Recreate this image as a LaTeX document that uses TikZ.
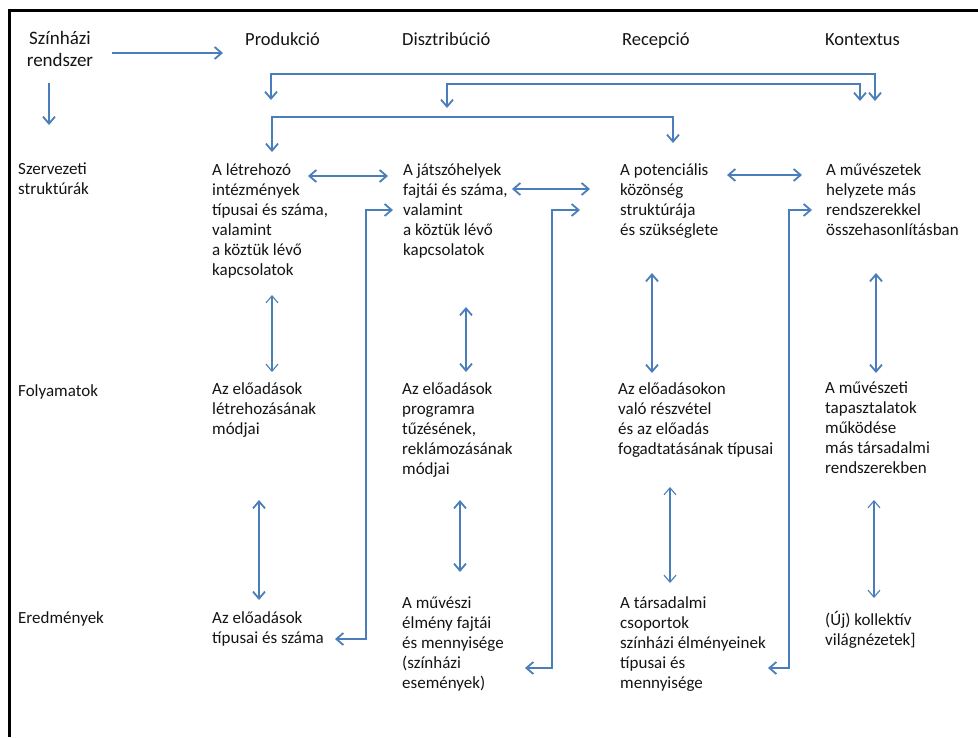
\documentclass[tikz,border=0pt]{standalone}
\usepackage{fontspec}
\setmainfont{Carlito}
\usetikzlibrary{arrows.meta}
\definecolor{linkblue}{RGB}{74,126,187}
\definecolor{inkgray}{RGB}{20,20,20}
\tikzset{
  >={Straight Barb[length=7pt,width=12pt]},
  cell/.style={anchor=north west, inner sep=0pt, align=left, text=inkgray,
    font=\fontsize{17}{20}\selectfont, execute at begin node=\strut},
  head/.style={anchor=base west, inner sep=0pt, text=inkgray,
    font=\fontsize{18.5}{22}\selectfont},
  link/.style={draw=linkblue, line width=1.8pt},
  thinlink/.style={draw=linkblue, line width=1.1pt}
}

\begin{document}
\begin{tikzpicture}[x=1pt, y=-1pt]
   \useasboundingbox (0,0) rectangle (978,737);
   \draw[line width=3pt] (978,10) -- (9,10) -- (9,737);

   \node[anchor=north, inner sep=0pt, align=center, text=inkgray,
     font=\fontsize{19}{21.5}\selectfont, execute at begin node=\strut]
     (rsz) at (60,31.5) {Színházi\\rendszer};
   \node[head] (prod) at (245,45) {Produkció};
   \node[head] (dist) at (402,45) {Disztribúció};
   \node[head] (rec)  at (622,45) {Recepció};
   \node[head] (kont) at (825,45) {Kontextus};

   \node[cell] (sz) at (18,163) {Szervezeti\\struktúrák};
   \node[cell] (fo) at (18,382.5) {Folyamatok};
   \node[cell] (er) at (18,609.5) {Eredmények};

   \node[cell] (p1) at (212,163) {A létrehozó\\intézmények\\típusai és száma,\\valamint\\a köztük lévő\\kapcsolatok};
   \node[cell] (d1) at (403,163) {A játszóhelyek\\fajtái és száma,\\valamint\\a köztük lévő\\kapcsolatok};
   \node[cell] (r1) at (620,163) {A potenciális\\közönség\\struktúrája\\és szükséglete};
   \node[cell] (k1) at (826,163) {A művészetek\\helyzete más\\rendszerekkel\\összehasonlításban};

   \node[cell] (p2) at (212,382) {Az előadások\\létrehozásának\\módjai};
   \node[cell] (d2) at (402,382) {Az előadások\\programra\\tűzésének,\\reklámozásának\\módjai};
   \node[cell] (r2) at (618,382) {Az előadásokon\\való részvétel\\és az előadás\\fogadtatásának típusai};
   \node[cell] (k2) at (825,382) {A művészeti\\tapasztalatok\\működése\\más társadalmi\\rendszerekben};

   \node[cell] (p3) at (212,611.5) {Az előadások\\típusai és száma};
   \node[cell] (d3) at (402,597) {A művészi\\élmény fajtái\\és mennyisége\\(színházi\\események)};
   \node[cell] (r3) at (620,596) {A társadalmi\\csoportok\\színházi élményeinek\\típusai és\\mennyisége};
   \node[cell] (k3) at (825,611.5) {(Új) kollektív\\világnézetek]};

   \coordinate (t1) at (112,53);   \coordinate (t2) at (223,53);
   \coordinate (t3) at (49,83);    \coordinate (t4) at (49,125);
   \coordinate (c1a) at (271,100); \coordinate (c1b) at (875,101);
   \coordinate (c2a) at (447,108); \coordinate (c2b) at (860,101);
   \coordinate (c3a) at (272,152); \coordinate (c3b) at (673,143);
   \coordinate (a1) at (308,176);  \coordinate (a2) at (388,176);
   \coordinate (a3) at (512,189);  \coordinate (a4) at (590,189);
   \coordinate (a5) at (727,175);  \coordinate (a6) at (802,175);
   \coordinate (v1a) at (272,295); \coordinate (v1b) at (272,372);
   \coordinate (v2a) at (259,500); \coordinate (v2b) at (259,600);
   \coordinate (v3a) at (466,307); \coordinate (v3b) at (466,372);
   \coordinate (v4a) at (460,500); \coordinate (v4b) at (460,572);
   \coordinate (v5a) at (652,273); \coordinate (v5b) at (652,373);
   \coordinate (v6a) at (670,487); \coordinate (v6b) at (670,583);
   \coordinate (v7a) at (876,273); \coordinate (v7b) at (876,373);
   \coordinate (v8a) at (874,500); \coordinate (v8b) at (874,598);
   \coordinate (f1a) at (393,210); \coordinate (f1b) at (335,639);
   \coordinate (f2a) at (580,210); \coordinate (f2b) at (525,668);
   \coordinate (f3a) at (812,210); \coordinate (f3b) at (768,668);

   \draw[link,->] (t1) -- (t2);
   \draw[link,->] (t3) -- (t4);
   \draw[link,<->] (c1a) -- ++(0,-26) -| (c1b);
   \draw[link,<->] (c2a) -- ++(0,-24) -| (c2b);
   \draw[link,<->] (c3a) -- ++(0,-35) -| (c3b);
   \draw[link,<->] (a1) -- (a2);
   \draw[link,<->] (a3) -- (a4);
   \draw[link,<->] (a5) -- (a6);
   \draw[thinlink,<->] (v1a) -- (v1b);
   \draw[link,<->] (v2a) -- (v2b);
   \draw[link,<->] (v3a) -- (v3b);
   \draw[link,<->] (v4a) -- (v4b);
   \draw[link,<->] (v5a) -- (v5b);
   \draw[thinlink,<->] (v6a) -- (v6b);
   \draw[link,<->] (v7a) -- (v7b);
   \draw[thinlink,<->] (v8a) -- (v8b);
   \draw[link,<->] (f1b) -- ++(31,0) |- (f1a);
   \draw[link,<->] (f2b) -- ++(27,0) |- (f2a);
   \draw[link,<->] (f3b) -- ++(21,0) |- (f3a);
\end{tikzpicture}
\end{document}
